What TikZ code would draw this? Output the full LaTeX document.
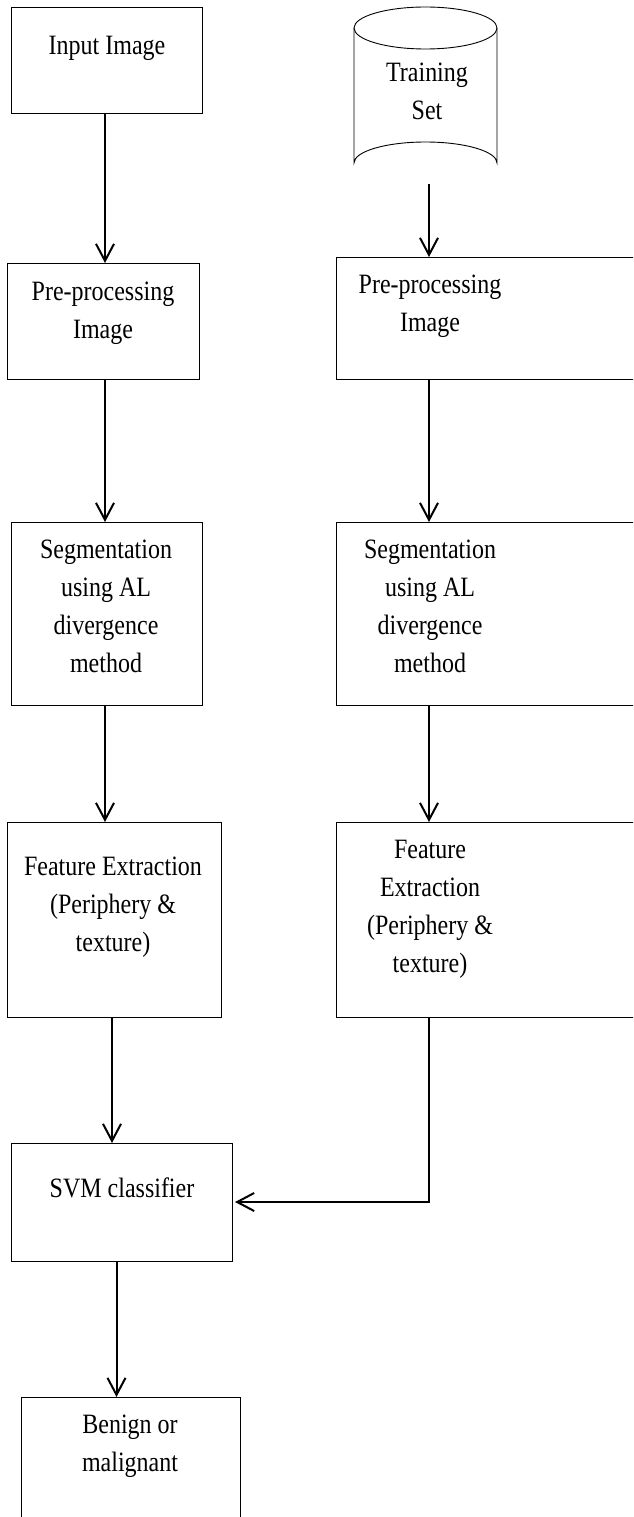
\documentclass[tikz,border=0pt]{standalone}
\usepackage{fontspec}
\setmainfont{Liberation Serif}[FakeStretch=0.857]
\usetikzlibrary{arrows.meta}

% lines of a label, first baseline on the node's base
\newcommand{\boxlines}[1]{\begin{tabular}[t]{@{}c@{}}#1\end{tabular}}

\tikzset{
	box/.style={draw, line width=0.9pt, inner sep=0pt, outer sep=0pt, anchor=north west},
	txt/.style={anchor=base, inner sep=0pt, font=\fontsize{28pt}{38pt}\selectfont},
	conn/.style={line width=2pt, -{Straight Barb[length=17pt,width=18pt,line width=2pt]}}
}

\begin{document}
\begin{tikzpicture}[x=1pt,y=-1pt]
					% page, same size as the scan
					\useasboundingbox (0,0) rectangle (633,1517);
					\clip (0,0) rectangle (633,1517);

					% columns of the connectors
					\coordinate (lcol) at (105,0);
					\coordinate (rcol) at (429,0);

					% left column boxes
					\node[box, minimum width=191pt, minimum height=106pt] (inimg) at (11,7) {};
					\node[box, minimum width=192pt, minimum height=116pt] (preL) at (7,263) {};
					\node[box, minimum width=191pt, minimum height=183pt] (segL) at (11,522) {};
					\node[box, minimum width=214pt, minimum height=195pt] (featL) at (7,822) {};
					\node[box, minimum width=221pt, minimum height=118pt] (svm) at (11,1143) {};
					\node[box, minimum width=219pt, minimum height=200pt] (result) at (21,1397) {};

					% right column boxes (cut at the page edge)
					\node[box, minimum width=330pt, minimum height=122pt] (preR) at (336,257) {};
					\node[box, minimum width=330pt, minimum height=183pt] (segR) at (336,522) {};
					\node[box, minimum width=330pt, minimum height=195pt] (featR) at (336,822) {};

					% training set cylinder
					\draw[line width=0.9pt] (354,28) -- (354,163)
							  arc[start angle=180, end angle=360, x radius=71.5, y radius=21]
							  -- (497,28);
					\draw[line width=0.9pt] (425.5,28) ellipse[x radius=71.5, y radius=21];
					\node[inner sep=0pt, outer sep=0pt, minimum width=143pt, minimum height=177pt, anchor=north west] (trainset) at (354,7) {};

					% labels
					\node[txt] (inimgtxt) at (107,55) {\boxlines{Input Image}};
					\node[txt] (trainsettxt) at (427,82) {\boxlines{Training\\Set}};
					\node[txt] (preLtxt) at (103,300) {\boxlines{Pre-processing\\Image}};
					\node[txt] (preRtxt) at (430,293) {\boxlines{Pre-processing\\Image}};
					\node[txt] (segLtxt) at (106,558) {\boxlines{Segmentation\\using AL\\divergence\\method}};
					\node[txt] (segRtxt) at (430,558) {\boxlines{Segmentation\\using AL\\divergence\\method}};
					\node[txt] (featLtxt) at (113,875) {\boxlines{Feature Extraction\\(Periphery \&\\texture)}};
					\node[txt] (featRtxt) at (430,858) {\boxlines{Feature\\Extraction\\(Periphery \&\\texture)}};
					\node[txt] (svmtxt) at (122,1197) {\boxlines{SVM classifier}};
					\node[txt] (resulttxt) at (130,1433) {\boxlines{Benign or\\malignant}};

					% left flow
					\draw[conn] (inimg.south -| lcol) -- (preL.north -| lcol);
					\draw[conn] (preL.south -| lcol) -- (segL.north -| lcol);
					\draw[conn] (segL.south -| lcol) -- (featL.north -| lcol);
					\draw[conn] ([xshift=-2pt]featL.south) -- ([xshift=-2pt]featL.south |- svm.north);
					\draw[conn] ([xshift=-5pt]svm.south) -- ([xshift=-5pt]svm.south |- result.north);

					% right flow
					\draw[conn] (trainset.south -| rcol) -- (preR.north -| rcol);
					\draw[conn] (preR.south -| rcol) -- (segR.north -| rcol);
					\draw[conn] (segR.south -| rcol) -- (featR.north -| rcol);
					\draw[conn] (featR.south -| rcol)
							  -- (svm.east -| rcol)
							  -- ([xshift=3pt]svm.east);
\end{tikzpicture}
\end{document}
